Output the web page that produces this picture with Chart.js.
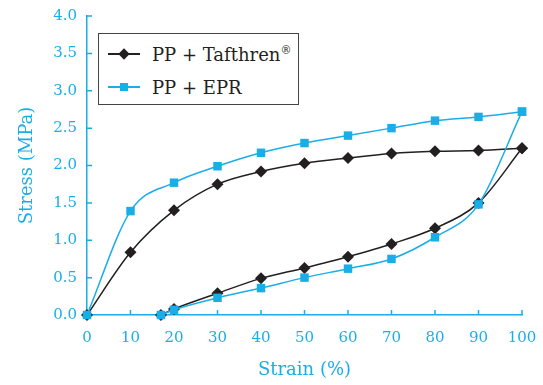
<!DOCTYPE html>
<html lang="en">
<head>
    <meta charset="UTF-8">
    <title>Stress vs Strain</title>
    <script src="https://cdn.jsdelivr.net/npm/chart.js"></script>
    <style>
        body { margin: 0; background: #fff; }
        #wrap { position: relative; width: 543px; height: 385px; }
        #legend {
            position: absolute; left: 98px; top: 33px; width: 199px; height: 70px;
            border: 1px solid #444; background: #fff;
            font-family: "DejaVu Serif", "Liberation Serif", serif; font-size: 18px; color: #231f20;
        }
        .row { position: absolute; left: 0; height: 24px; display: flex; align-items: center; }
        .sample { position: relative; width: 32px; height: 2px; margin-left: 9px; margin-right: 12px; }
        .mark { position: absolute; left: 50%; top: 50%; }
        sup { font-size: 11px; vertical-align: 7px; }
    </style>
</head>
<body>
<div id="wrap">
    <canvas id="chart" width="543" height="385"></canvas>
    <div id="legend">
        <div class="row" style="top:8px">
            <div class="sample" style="background:#231f20">
                <div class="mark" style="width:8px;height:8px;margin:-4px 0 0 -4px;background:#231f20;transform:rotate(45deg)"></div>
            </div>
            <span>PP + Tafthren<sup>®</sup></span>
        </div>
        <div class="row" style="top:41px">
            <div class="sample" style="background:#1aaee8">
                <div class="mark" style="width:8px;height:8px;margin:-4px 0 0 -4px;background:#1aaee8"></div>
            </div>
            <span>PP + EPR</span>
        </div>
    </div>
</div>
<script>
    // strain (%) for loading and unloading branches
    const strainLoad = [0, 10, 20, 30, 40, 50, 60, 70, 80, 90, 100];
    const strainUnload = [100, 90, 80, 70, 60, 50, 40, 30, 20, 17];

    // stress (MPa)
    const tafLoad = [0, 0.84, 1.40, 1.75, 1.92, 2.03, 2.10, 2.16, 2.19, 2.20, 2.23];
    const tafUnload = [2.23, 1.50, 1.16, 0.95, 0.78, 0.63, 0.49, 0.29, 0.08, 0];
    const eprLoad = [0, 1.39, 1.77, 1.99, 2.17, 2.30, 2.40, 2.50, 2.60, 2.65, 2.72];
    const eprUnload = [2.72, 1.48, 1.04, 0.75, 0.62, 0.50, 0.36, 0.23, 0.07, 0];

    const xTicks = [0, 10, 20, 30, 40, 50, 60, 70, 80, 90, 100];
    const yTicks = [0, 0.5, 1, 1.5, 2, 2.5, 3, 3.5, 4];

    const CYAN = '#1aaee8';
    const DARK = '#231f20';
    const SERIF = '"DejaVu Serif", "Liberation Serif", serif';

    function pts(xs, ys) {
        return xs.map((x, i) => ({ x: x, y: ys[i] }));
    }

    function series(xs, ys, color, style, r, order) {
        return {
            data: pts(xs, ys),
            borderColor: color,
            backgroundColor: color,
            borderWidth: 1.5,
            pointStyle: style,
            pointRadius: r,
            pointBorderWidth: 0,
            cubicInterpolationMode: 'monotone',
            clip: false,
            order: order
        };
    }

    // short inward tick marks on both axes
    const innerTicks = {
        id: 'innerTicks',
        beforeDatasetsDraw(chart) {
            const ctx = chart.ctx;
            const x = chart.scales.x, y = chart.scales.y;
            ctx.save();
            ctx.strokeStyle = CYAN;
            ctx.lineWidth = 1.5;
            ctx.beginPath();
            xTicks.forEach(v => {
                const px = x.getPixelForValue(v);
                ctx.moveTo(px, y.bottom);
                ctx.lineTo(px, y.bottom - 5);
            });
            yTicks.forEach(v => {
                const py = y.getPixelForValue(v);
                ctx.moveTo(x.left, py);
                ctx.lineTo(x.left + 5, py);
            });
            ctx.stroke();
            ctx.restore();
        }
    };

    new Chart(document.getElementById('chart'), {
        type: 'line',
        data: {
            datasets: [
                series(strainLoad, tafLoad, DARK, 'rectRot', 6, 1),
                series(strainUnload, tafUnload, DARK, 'rectRot', 6, 1),
                series(strainLoad, eprLoad, CYAN, 'rect', 6, 0),
                series(strainUnload, eprUnload, CYAN, 'rect', 6, 0)
            ]
        },
        plugins: [innerTicks],
        options: {
            responsive: false,
            animation: false,
            layout: { padding: { top: 16, right: 21, left: 0, bottom: 0 } },
            plugins: { legend: { display: false }, tooltip: { enabled: false } },
            scales: {
                x: {
                    type: 'linear', min: 0, max: 100,
                    afterBuildTicks: s => { s.ticks = xTicks.map(v => ({ value: v })); },
                    afterFit: s => { s.height = 70; s.paddingLeft = 0; s.paddingRight = 0; },
                    grid: { display: false, drawTicks: false },
                    border: { color: CYAN, width: 1.5 },
                    ticks: { color: CYAN, padding: 14, font: { family: SERIF, size: 15 } },
                    title: { display: true, text: 'Strain (%)', color: CYAN, padding: { top: 6 },
                             font: { family: SERIF, size: 18 } }
                },
                y: {
                    min: 0, max: 4,
                    afterBuildTicks: s => { s.ticks = yTicks.map(v => ({ value: v })); },
                    afterFit: s => { s.width = 87; s.paddingTop = 0; s.paddingBottom = 0; },
                    grid: { display: false, drawTicks: false },
                    border: { color: CYAN, width: 1.5 },
                    ticks: { color: CYAN, padding: 10, font: { family: SERIF, size: 15 },
                             callback: v => v.toFixed(1) },
                    title: { display: true, text: 'Stress (MPa)', color: CYAN, padding: { top: 17, bottom: 0 },
                             font: { family: SERIF, size: 18 } }
                }
            }
        }
    });
</script>
</body>
</html>
